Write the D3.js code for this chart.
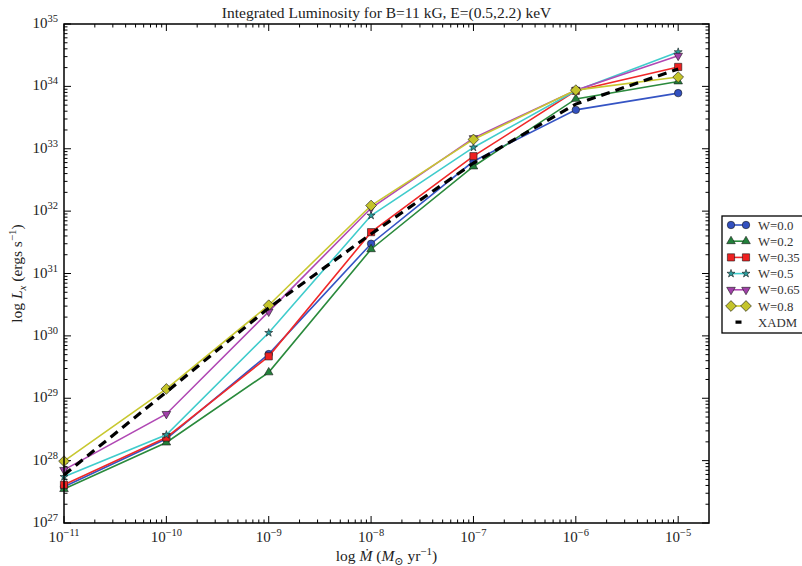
<!DOCTYPE html>
<html><head><meta charset="utf-8">
<script src="https://cdn.jsdelivr.net/npm/d3@7"></script>
<style>
html,body{margin:0;padding:0;background:#fff;}
svg{display:block;font-family:"Liberation Serif","DejaVu Serif",serif;}
</style></head>
<body>
<svg id="chart" width="802" height="566"></svg>
<script>
// ---- data ----
const mdot = [1e-11, 1e-10, 1e-9, 1e-8, 1e-7, 1e-6, 1e-5];
const seriesNames = ["W=0.0", "W=0.2", "W=0.35", "W=0.5", "W=0.65", "W=0.8", "XADM"];
const lumW00 = [3.8e27, 2.24e28, 5.1e29, 3.0e31, 6.3e32, 4.2e33, 7.8e33];
const lumW02 = [3.5e27, 1.95e28, 2.6e29, 2.45e31, 5.2e32, 6.3e33, 1.2e34];
const lumW035 = [4.1e27, 2.35e28, 4.7e29, 4.6e31, 7.6e32, 8.5e33, 2.05e34];
const lumW05 = [5.5e27, 2.6e28, 1.12e30, 8.5e31, 1.05e33, 8.5e33, 3.55e34];
const lumW065 = [7.1e27, 5.6e28, 2.45e30, 1.12e32, 1.48e33, 8.7e33, 3.1e34];
const lumW08 = [9.8e27, 1.41e29, 3.1e30, 1.23e32, 1.41e33, 8.7e33, 1.41e34];
const lumXADM = [5.9e27, 1.26e29, 2.8e30, 4.3e31, 5.9e32, 5.2e33, 1.9e34];
const xTickExp = [-11, -10, -9, -8, -7, -6, -5];
const yTickExp = [27, 28, 29, 30, 31, 32, 33, 34, 35];
const titleText = "Integrated Luminosity for B=11 kG, E=(0.5,2.2) keV";

// ---- layout ----
const L = 64, R = 709, T = 24, B = 523;
const svg = d3.select("#chart");
const x = d3.scaleLog().domain([1e-11, 2e-5]).range([L, R]);
const y = d3.scaleLog().domain([1e27, 1e35]).range([B, T]);

const styles = [
  {color:"#3554c4", fill:"#3250c0", sym:"circle"},
  {color:"#2a8a3c", fill:"#22803a", sym:"triUp"},
  {color:"#f02828", fill:"#ee2020", sym:"square"},
  {color:"#40cccc", fill:"#2a9c9c", sym:"star"},
  {color:"#b048b4", fill:"#a040a8", sym:"triDown"},
  {color:"#c8c830", fill:"#c4c42a", sym:"diamond"}
];
const allLum = [lumW00, lumW02, lumW035, lumW05, lumW065, lumW08];

function symPath(s) {
  if (s === "circle") return d3.symbol(d3.symbolCircle, 44)();
  if (s === "square") return d3.symbol(d3.symbolSquare, 52)();
  if (s === "triUp" || s === "triDown") return d3.symbol(d3.symbolTriangle, 32)();
  if (s === "star") return d3.symbol(d3.symbolStar, 20)();
  if (s === "diamond") return d3.symbol(d3.symbolSquare, 58)();
  return "";
}
function symRot(s) {
  if (s === "triDown") return 180;
  if (s === "diamond") return 45;
  return 0;
}

// ---- ticks ----
const tickG = svg.append("g").attr("stroke", "#000").attr("stroke-width", 1);
const major = 7, minor = 3.5;
const xMinor = [];
for (let e = -11; e <= -5; e++) for (let k = 2; k <= 9; k++) { const v = k * Math.pow(10, e); if (v < 2e-5) xMinor.push(v); }
xTickExp.forEach(e => {
  const px = x(Math.pow(10, e));
  tickG.append("line").attr("x1", px).attr("x2", px).attr("y1", B).attr("y2", B - major);
  tickG.append("line").attr("x1", px).attr("x2", px).attr("y1", T).attr("y2", T + major);
});
xMinor.forEach(v => {
  const px = x(v);
  tickG.append("line").attr("x1", px).attr("x2", px).attr("y1", B).attr("y2", B - minor);
  tickG.append("line").attr("x1", px).attr("x2", px).attr("y1", T).attr("y2", T + minor);
});
const yMinor = [];
for (let e = 27; e < 35; e++) for (let k = 2; k <= 9; k++) yMinor.push(k * Math.pow(10, e));
yTickExp.forEach(e => {
  const py = y(Math.pow(10, e));
  tickG.append("line").attr("x1", L).attr("x2", L + major).attr("y1", py).attr("y2", py);
  tickG.append("line").attr("x1", R).attr("x2", R - major).attr("y1", py).attr("y2", py);
});
yMinor.forEach(v => {
  const py = y(v);
  tickG.append("line").attr("x1", L).attr("x2", L + minor).attr("y1", py).attr("y2", py);
  tickG.append("line").attr("x1", R).attr("x2", R - minor).attr("y1", py).attr("y2", py);
});

// tick labels
const labG = svg.append("g").attr("fill", "#222").attr("font-size", 15);
xTickExp.forEach(e => {
  const t = labG.append("text").attr("x", x(Math.pow(10, e))).attr("y", 542).attr("text-anchor", "middle");
  t.append("tspan").text("10");
  t.append("tspan").attr("dy", -6).attr("font-size", 10.5).text("\u2212" + Math.abs(e));
});
yTickExp.forEach(e => {
  const t = labG.append("text").attr("x", 58).attr("y", y(Math.pow(10, e)) + 4).attr("text-anchor", "end");
  t.append("tspan").text("10");
  t.append("tspan").attr("dy", -6).attr("font-size", 10.5).text(String(e));
});

// ---- data lines ----
const dataG = svg.append("g");
const lineGen = d3.line().x(d => x(d[0])).y(d => y(d[1]));

allLum.forEach((vals, i) => {
  const pts = mdot.map((m, j) => [m, vals[j]]);
  const st = styles[i];
  dataG.append("path").attr("d", lineGen(pts)).attr("fill", "none")
    .attr("stroke", st.color).attr("stroke-width", 1.6);
  pts.forEach(p => {
    dataG.append("path").attr("d", symPath(st.sym))
      .attr("transform", `translate(${x(p[0])},${y(p[1])}) rotate(${symRot(st.sym)})`)
      .attr("fill", st.fill).attr("stroke", "#1a1a1a").attr("stroke-width", 0.6);
  });
});
dataG.append("path").attr("d", lineGen(mdot.map((m, j) => [m, lumXADM[j]])))
  .attr("fill", "none").attr("stroke", "#000").attr("stroke-width", 3.2)
  .attr("stroke-dasharray", "9,6");

// frame
svg.append("rect").attr("x", L).attr("y", T).attr("width", R - L).attr("height", B - T)
  .attr("fill", "none").attr("stroke", "#000").attr("stroke-width", 1.5);

// title
svg.append("text").attr("x", (L + R) / 2).attr("y", 18).attr("text-anchor", "middle")
  .attr("font-size", 15.5).attr("fill", "#222").text(titleText);

// x label
const xl = svg.append("text").attr("x", (L + R) / 2).attr("y", 561).attr("text-anchor", "middle")
  .attr("font-size", 15.5).attr("fill", "#222");
xl.append("tspan").text("log ");
xl.append("tspan").attr("font-style", "italic").text("\u1E40");
xl.append("tspan").text(" (");
xl.append("tspan").attr("font-style", "italic").text("M");
xl.append("tspan").attr("dy", 4).attr("font-size", 11).text("\u2299");
xl.append("tspan").attr("dy", -4).text(" yr");
xl.append("tspan").attr("dy", -6).attr("font-size", 11).text("\u22121");
xl.append("tspan").attr("dy", 6).text(")");

// y label
const yl = svg.append("text").attr("transform", `translate(22,${(T + B) / 2}) rotate(-90)`)
  .attr("text-anchor", "middle").attr("font-size", 15.5).attr("fill", "#222");
yl.append("tspan").text("log ");
yl.append("tspan").attr("font-style", "italic").text("L");
yl.append("tspan").attr("dy", 4).attr("font-size", 11).attr("font-style", "italic").text("x");
yl.append("tspan").attr("dy", -4).text(" (ergs s");
yl.append("tspan").attr("dy", -6).attr("font-size", 11).text("\u22121");
yl.append("tspan").attr("dy", 6).text(")");

// ---- legend ----
const lg = svg.append("g");
const lx = 722, ly = 216, lh = 117, rowH = 16.2, row0 = 225;
lg.append("rect").attr("x", lx).attr("y", ly).attr("width", 110).attr("height", lh)
  .attr("fill", "#fff").attr("stroke", "#000").attr("stroke-width", 1.3);
seriesNames.forEach((name, i) => {
  const cy = row0 + i * rowH;
  if (i < 6) {
    const st = styles[i];
    lg.append("line").attr("x1", 731).attr("x2", 746).attr("y1", cy).attr("y2", cy)
      .attr("stroke", st.color).attr("stroke-width", 1.6);
    [731, 746].forEach(px => {
      lg.append("path").attr("d", symPath(st.sym))
        .attr("transform", `translate(${px},${cy}) rotate(${symRot(st.sym)})`)
        .attr("fill", st.fill).attr("stroke", "#1a1a1a").attr("stroke-width", 0.6);
    });
  } else {
    lg.append("line").attr("x1", 731).attr("x2", 746).attr("y1", cy).attr("y2", cy)
      .attr("stroke", "#000").attr("stroke-width", 3.2).attr("stroke-dasharray", "0,4.5,6,10");
  }
  lg.append("text").attr("x", 758).attr("y", cy + 4.5).attr("font-size", 12.8).attr("fill", "#333").text(name);
});
</script>
</body></html>
